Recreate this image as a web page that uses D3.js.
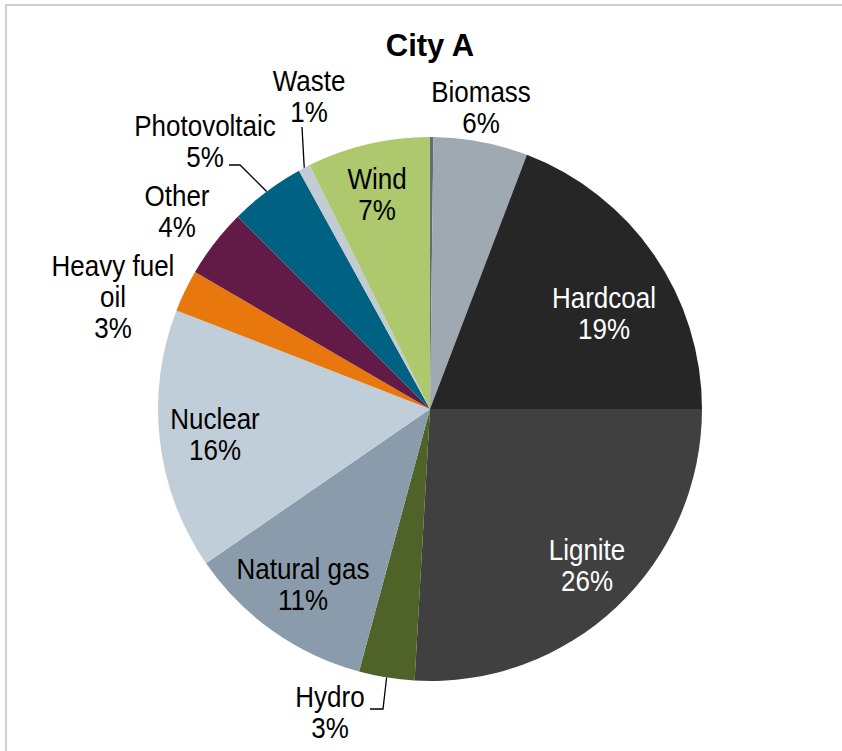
<!DOCTYPE html>
<html>
<head>
<meta charset="utf-8">
<script src="https://cdn.jsdelivr.net/npm/d3@7"></script>
<style>
  html, body { margin: 0; padding: 0; background: #fff; }
  svg { display: block; }
  text { font-family: "Liberation Sans", Arial, sans-serif; }
</style>
</head>
<body>
<svg id="chart" width="842" height="751"></svg>
<script>
// Electricity generation mix, share in percent (clockwise from 12 o'clock)
const sources = ["Geothermal", "Biomass", "Hardcoal", "Lignite", "Hydro", "Natural gas",
                 "Nuclear", "Heavy fuel oil", "Other", "Photovoltaic", "Waste", "Wind"];
const shares  = [0.2, 5.6, 19.2, 25.9, 3.3, 11.2, 15.5, 2.5, 4.1, 4.5, 0.7, 7.3];
const colors  = ["#5f6d7b", "#9ea9b1", "#262626", "#404040", "#4f6228", "#8a9cab",
                 "#c0ced9", "#e8770e", "#621a46", "#006283", "#c3cbd3", "#adc86d"];
// Text lines of each label (the source name may wrap); empty = no label
const labelLines = [[], ["Biomass"], ["Hardcoal"], ["Lignite"], ["Hydro"], ["Natural gas"],
                    ["Nuclear"], ["Heavy fuel", "oil"], ["Other"], ["Photovoltaic"], ["Waste"], ["Wind"]];
const title = "City A";

// Layout
const cx = 430, cy = 409, R = 272;
const fontSize = 26, lineGap = 31, stretch = 1.12;
// label anchor (centre x, first baseline y) relative to the pie centre, text colour
const labelLayout = {
  "Biomass":        { dx: 51,   dy: -307, fill: "#000" },
  "Hardcoal":       { dx: 174,  dy: -101, fill: "#fff" },
  "Lignite":        { dx: 157,  dy: 151,  fill: "#fff" },
  "Hydro":          { dx: -100, dy: 298,  fill: "#000" },
  "Natural gas":    { dx: -127, dy: 170,  fill: "#000" },
  "Nuclear":        { dx: -215, dy: 20,   fill: "#000" },
  "Heavy fuel oil": { dx: -317, dy: -133, fill: "#000" },
  "Other":          { dx: -253, dy: -203, fill: "#000" },
  "Photovoltaic":   { dx: -225, dy: -273, fill: "#000" },
  "Waste":          { dx: -121, dy: -318, fill: "#000" },
  "Wind":           { dx: -53,  dy: -220, fill: "#000" }
};
// leader lines: polyline start points relative to pie centre, ending on the slice rim
const leaders = {
  "Photovoltaic": [[-201, -244], [-190, -244]],
  "Waste":        [[-128, -282]],
  "Hydro":        [[-60, 300], [-47, 300]]
};

const svg = d3.select("#chart");

// frame
svg.append("rect")
  .attr("x", 6).attr("y", 5).attr("width", 860).attr("height", 780)
  .attr("fill", "none").attr("stroke", "#c8d2db").attr("stroke-width", 2);

// title
svg.append("text")
  .attr("x", cx).attr("y", 56)
  .attr("text-anchor", "middle")
  .attr("font-size", 31).attr("font-weight", "bold")
  .attr("fill", "#000")
  .text(title);

const data = sources.map((s, i) => ({ source: s, value: shares[i], color: colors[i], lines: labelLines[i] }));

const pie = d3.pie().value(d => d.value).sort(null).startAngle(0).endAngle(2 * Math.PI);
const arcs = pie(data);
const arc = d3.arc().innerRadius(0).outerRadius(R);

const g = svg.append("g").attr("transform", `translate(${cx},${cy})`);

g.selectAll("path.slice")
  .data(arcs)
  .join("path")
  .attr("class", "slice")
  .attr("d", arc)
  .attr("fill", d => d.data.color);

// leader lines
const rimPoint = d => {
  const a = (d.startAngle + d.endAngle) / 2;
  return [R * Math.sin(a), -R * Math.cos(a)];
};
arcs.filter(d => leaders[d.data.source]).forEach(d => {
  const pts = leaders[d.data.source].concat([rimPoint(d)]);
  g.append("path")
    .attr("d", d3.line()(pts))
    .attr("fill", "none")
    .attr("stroke", "#000")
    .attr("stroke-width", 1.3);
});

// labels
arcs.filter(d => d.data.lines.length).forEach(d => {
  const lay = labelLayout[d.data.source];
  const t = g.append("text")
    .attr("transform", `translate(${lay.dx},${lay.dy}) scale(1,${stretch})`)
    .attr("text-anchor", "middle")
    .attr("font-size", fontSize)
    .attr("fill", lay.fill);
  const lines = d.data.lines.concat([Math.round(d.data.value) + "%"]);
  lines.forEach((ln, i) => {
    t.append("tspan")
      .attr("x", 0)
      .attr("y", i * lineGap / stretch)
      .text(ln);
  });
});
</script>
</body>
</html>
